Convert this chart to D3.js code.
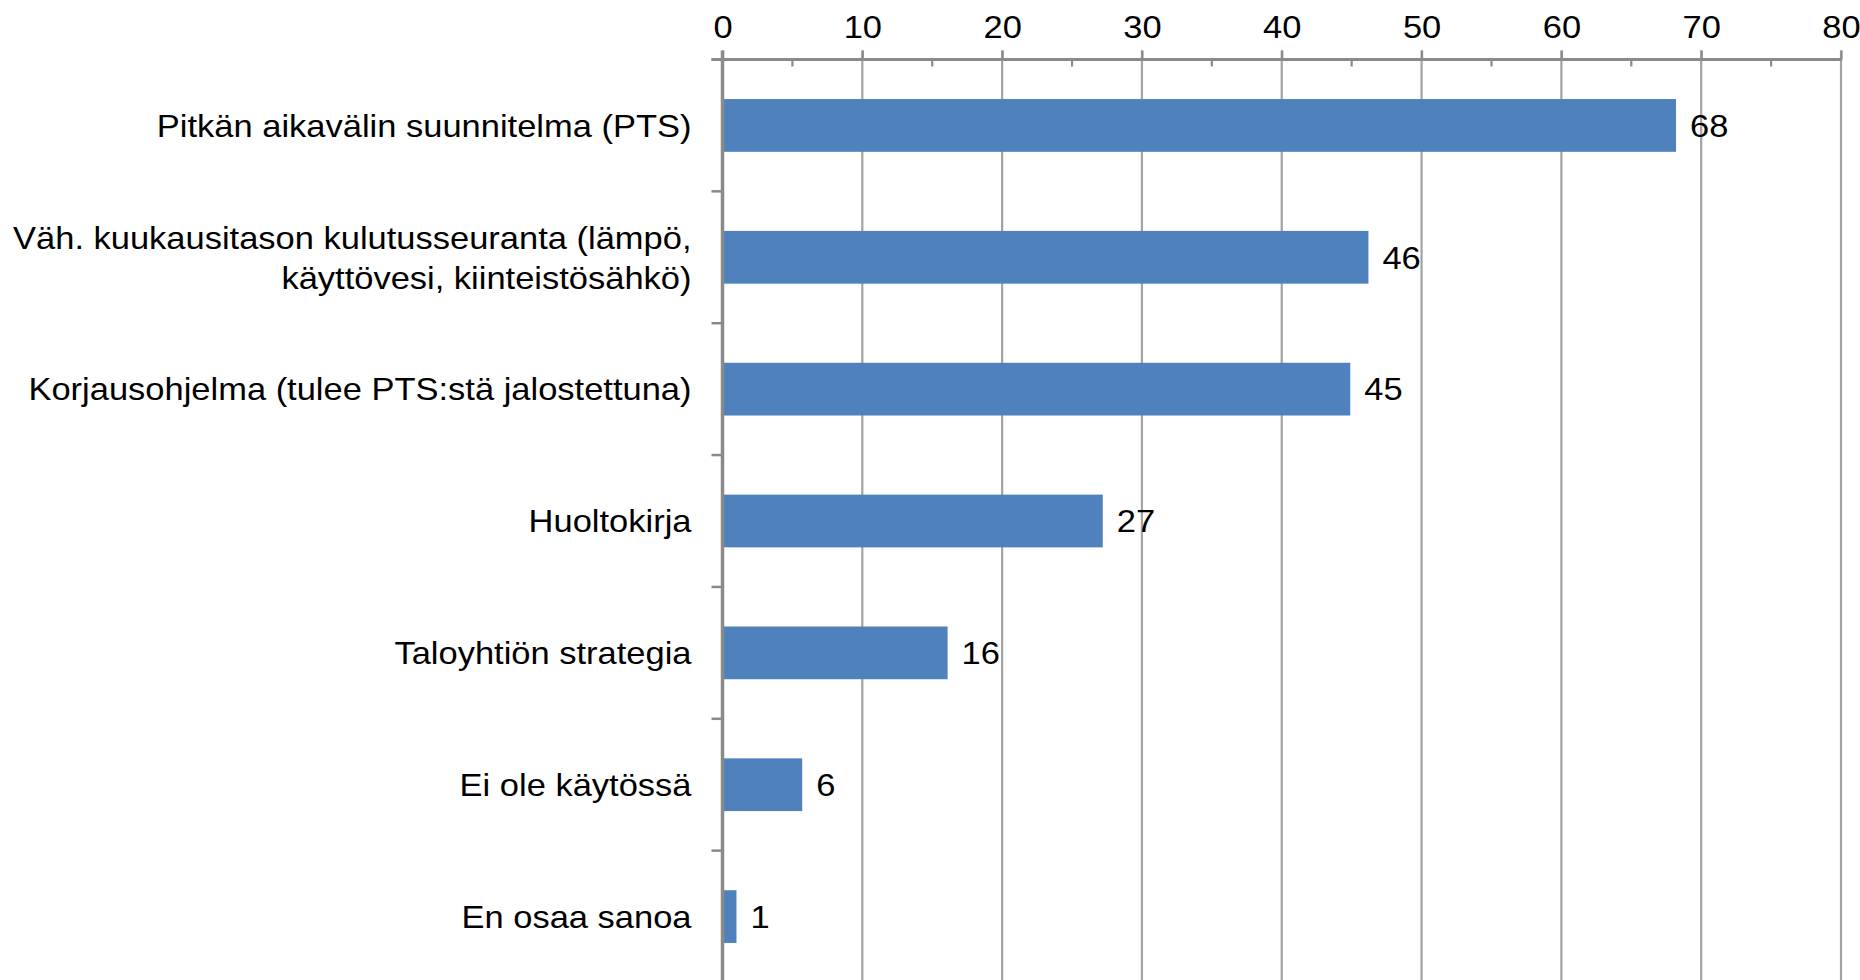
<!DOCTYPE html>
<html>
<head>
<meta charset="utf-8">
<script src="https://cdn.jsdelivr.net/npm/d3@7/dist/d3.min.js"></script>
<style>
  html, body { margin: 0; padding: 0; background: #ffffff; }
  svg { display: block; }
  text { font-family: "Liberation Sans", Arial, sans-serif; fill: #000; }
</style>
</head>
<body>
<svg id="chart" width="1860" height="980"></svg>
<script>
const categories = [
  "Pitkän aikavälin suunnitelma (PTS)",
  "Väh. kuukausitason kulutusseuranta (lämpö,\nkäyttövesi, kiinteistösähkö)",
  "Korjausohjelma (tulee PTS:stä jalostettuna)",
  "Huoltokirja",
  "Taloyhtiön strategia",
  "Ei ole käytössä",
  "En osaa sanoa"
];
// bar lengths; labels show them rounded
const values = [68.2, 46.2, 44.9, 27.2, 16.1, 5.7, 1.0];
const xTickValues = [0, 10, 20, 30, 40, 50, 60, 70, 80];
const xMinorTickValues = [5, 15, 25, 35, 45, 55, 65, 75];

(function () {
const W = 1860, H = 980;
const mLeft = 722.5, mRight = 1841, mTop = 59.5, mBottom = 982.5;
const fontSize = 31.5;
const stretch = 1.095;

const svg = d3.select("#chart");

const x = d3.scaleLinear().domain([0, 80]).range([mLeft, mRight]);
const y = d3.scaleBand().domain(categories).range([mTop, mBottom]).paddingInner(0.6).paddingOuter(0.3);
const fmt = d3.format(".0f");

// gridlines
svg.append("g")
  .selectAll("line")
  .data(xTickValues.filter(d => d !== 0))
  .join("line")
  .attr("x1", d => x(d)).attr("x2", d => x(d))
  .attr("y1", mTop - 9).attr("y2", H)
  .attr("stroke", "#a3a3a3").attr("stroke-width", 2.2);

// bars
svg.append("g")
  .selectAll("rect")
  .data(values)
  .join("rect")
  .attr("x", x(0))
  .attr("y", (d, i) => y(categories[i]))
  .attr("width", d => x(d) - x(0))
  .attr("height", y.bandwidth())
  .attr("fill", "#4f81bd");

// top axis (D3 axis, restyled)
const xAxis = d3.axisTop(x).tickValues(xTickValues).tickSize(9).tickPadding(13).tickFormat(d3.format("d"));
const gx = svg.append("g").attr("transform", `translate(0,${mTop})`).call(xAxis);
gx.select(".domain").remove();
gx.selectAll(".tick line").attr("stroke", "#8a8a8a").attr("stroke-width", 2.2);
gx.selectAll(".tick text")
  .attr("font-family", '"Liberation Sans", Arial, sans-serif')
  .attr("font-size", fontSize).attr("fill", "#000")
  .attr("transform", `scale(${stretch},1)`);

// minor ticks below axis line
svg.append("g")
  .selectAll("line")
  .data(xMinorTickValues)
  .join("line")
  .attr("x1", d => x(d)).attr("x2", d => x(d))
  .attr("y1", mTop).attr("y2", mTop + 7)
  .attr("stroke", "#8a8a8a").attr("stroke-width", 2.2);

// horizontal axis line
svg.append("line")
  .attr("x1", mLeft - 11).attr("x2", mRight + 1)
  .attr("y1", mTop).attr("y2", mTop)
  .attr("stroke", "#8a8a8a").attr("stroke-width", 3);

// category tick marks at band boundaries
const boundaries = d3.range(categories.length + 1).map(i => mTop + i * y.step());
svg.append("g")
  .selectAll("line")
  .data(boundaries)
  .join("line")
  .attr("x1", mLeft - 11).attr("x2", mLeft)
  .attr("y1", d => d).attr("y2", d => d)
  .attr("stroke", "#8a8a8a").attr("stroke-width", 2.5);

// vertical axis
svg.append("line")
  .attr("x1", mLeft).attr("x2", mLeft)
  .attr("y1", mTop - 9).attr("y2", H)
  .attr("stroke", "#8a8a8a").attr("stroke-width", 3.5);

// category labels
const lineH = 40;
const labelG = svg.append("g")
  .attr("transform", `translate(${mLeft - 31},0) scale(${stretch},1)`);
const labels = labelG.selectAll("text")
  .data(categories)
  .join("text")
  .attr("text-anchor", "end")
  .attr("font-size", fontSize);
labels.each(function(d) {
  const lines = d.split("\n");
  const n = lines.length;
  const cy = y(d) + y.bandwidth() / 2;
  d3.select(this).selectAll("tspan")
    .data(lines)
    .join("tspan")
    .attr("x", 0)
    .attr("y", (l, j) => cy + (j - (n - 1) / 2) * lineH + fontSize * 0.36)
    .text(l => l);
});

// value labels
svg.append("g")
  .selectAll("text")
  .data(values)
  .join("text")
  .attr("font-size", fontSize)
  .attr("transform", (d, i) => `translate(${x(d) + 14},${y(categories[i]) + y.bandwidth() / 2 + fontSize * 0.36}) scale(${stretch},1)`)
  .text(d => fmt(d));
})();
</script>
</body>
</html>
